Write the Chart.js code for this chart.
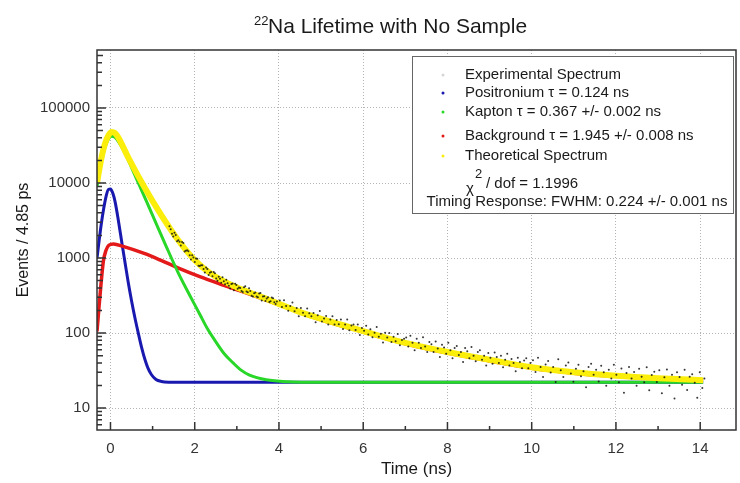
<!DOCTYPE html>
<html>
<head>
  <title>22Na Lifetime with No Sample</title>
  <script src="https://cdn.jsdelivr.net/npm/chart.js"></script>
  <style>
    body { margin: 0; background: #fff; }
  </style>
</head>
<body>
  <canvas id="myChart" width="740" height="483"></canvas>
  <script>
    // tick values
    const timeTicks = [0, 2, 4, 6, 8, 10, 12, 14];
    const timeMinorTicks = [1, 3, 5, 7, 9, 11, 13];
    const countTicks = [10, 100, 1000, 10000, 100000];

    // [time (ns), events]
    const positronium = [[-0.32, 1000], [-0.27, 1700], [-0.22, 2800], [-0.16, 4600], [-0.1, 6800], [-0.05, 8200],
      [0.0, 8300], [0.06, 7200], [0.11, 5600], [0.19, 3100], [0.27, 1600], [0.35, 840], [0.42, 480], [0.5, 270],
      [0.58, 160], [0.66, 100], [0.74, 64], [0.82, 44], [0.89, 34], [0.97, 28], [1.08, 24], [1.21, 22.6],
      [1.4, 22.1], [1.7, 22], [14.07, 22]];

    const kapton = [[-0.32, 9000], [-0.25, 15000], [-0.2, 21000], [-0.13, 30000], [-0.05, 38500], [0.03, 42000],
      [0.1, 41000], [0.3, 28000], [0.6, 12000], [1.0, 3700], [1.33, 1400], [1.6, 650], [1.92, 290], [2.12, 178],
      [2.31, 112], [2.51, 75], [2.7, 53], [2.91, 40], [3.1, 32], [3.3, 27.5], [3.7, 23.8], [4.2, 22.4],
      [5.0, 22], [14.07, 22]];

    const background = [[-0.32, 105], [-0.27, 230], [-0.22, 480], [-0.17, 900], [-0.11, 1250], [-0.04, 1480],
      [0.07, 1540], [0.3, 1430], [0.8, 1150], [1.2, 930], [1.6, 740], [2.12, 565], [2.71, 430], [3.2, 345],
      [4.0, 238], [5.0, 150], [6.0, 103], [7.0, 72], [8.0, 54], [9.0, 42.5], [10.0, 33.8], [11.0, 29.2],
      [12.0, 26.5], [13.0, 24.6], [14.07, 23.3]];

    const theoretical = [[-0.32, 10000], [-0.25, 17000], [-0.2, 23500], [-0.13, 33500], [-0.05, 43000], [0.03, 48000],
      [0.1, 46500], [0.19, 40000], [0.42, 22000], [0.82, 8500], [1.21, 3700], [1.6, 1750], [2.0, 940], [2.4, 610],
      [2.9, 430], [3.5, 315], [4.0, 245], [4.5, 190], [5.0, 155], [5.5, 128], [6.0, 106], [6.5, 88], [7.0, 74],
      [7.5, 64], [8.0, 56], [9.0, 44], [10.0, 35], [11.0, 30], [12.0, 27], [13.0, 25], [14.07, 23.5]];

    // experimental spectrum, the scattered black dots
    const expEarly = [[1.40, 2650], [1.43, 2420], [1.46, 2110], [1.49, 1930], [1.52, 2180], [1.55, 2030], [1.58, 1670],
      [1.61, 1730], [1.64, 1650], [1.67, 1470], [1.70, 1640], [1.73, 1580], [1.76, 1220], [1.79, 1255], [1.82, 1270],
      [1.85, 1235], [1.88, 1090], [1.91, 955], [1.94, 1090], [1.97, 1015], [2.00, 885], [2.03, 985], [2.06, 980],
      [2.09, 790], [2.12, 785], [2.15, 800], [2.18, 800], [2.21, 713], [2.24, 640], [2.27, 745], [2.30, 715],
      [2.33, 593], [2.36, 635], [2.39, 649], [2.42, 570], [2.45, 650], [2.48, 627], [2.51, 533], [2.54, 497],
      [2.57, 565], [2.60, 530], [2.63, 470], [2.66, 554], [2.69, 490], [2.72, 447], [2.75, 513], [2.78, 462],
      [2.81, 426], [2.84, 392], [2.87, 452], [2.90, 456], [2.93, 373], [2.96, 455], [2.99, 436], [3.02, 389],
      [3.05, 406], [3.08, 400], [3.11, 363], [3.14, 353], [3.17, 408], [3.20, 420], [3.23, 358], [3.26, 350],
      [3.29, 397], [3.32, 363], [3.35, 314], [3.38, 306], [3.41, 340], [3.44, 348], [3.47, 307], [3.50, 299],
      [3.53, 336], [3.56, 341], [3.59, 272], [3.62, 307], [3.65, 309], [3.68, 267], [3.71, 289], [3.74, 299],
      [3.77, 259], [3.80, 266], [3.83, 297], [3.86, 290], [3.89, 257], [3.92, 243], [3.95, 264]];

    const expMid = [[4.02, 272], [4.07, 223], [4.12, 273], [4.17, 230], [4.22, 198], [4.27, 229], [4.32, 255],
      [4.37, 195], [4.42, 216], [4.47, 168], [4.52, 216], [4.57, 186], [4.62, 167], [4.67, 212], [4.72, 183],
      [4.77, 167], [4.82, 185], [4.87, 139], [4.92, 173], [4.97, 196], [5.02, 143], [5.07, 156], [5.12, 169],
      [5.17, 130], [5.22, 152], [5.27, 167], [5.32, 130], [5.37, 149], [5.42, 131], [5.47, 151], [5.52, 113],
      [5.57, 130], [5.62, 151], [5.67, 109], [5.72, 126], [5.77, 130], [5.82, 110], [5.87, 130], [5.92, 94],
      [5.97, 117], [6.02, 107], [6.07, 125], [6.12, 96], [6.17, 112], [6.22, 88], [6.27, 101], [6.32, 120],
      [6.37, 89], [6.42, 98], [6.47, 75], [6.52, 101], [6.57, 87], [6.62, 100], [6.67, 76], [6.72, 89],
      [6.77, 78], [6.82, 97], [6.87, 69], [6.92, 81], [6.97, 84]];

    const expLate = [[7.02, 87], [7.07, 66], [7.12, 92], [7.17, 74], [7.22, 59], [7.27, 84], [7.32, 74], [7.37, 63],
      [7.42, 88], [7.47, 66], [7.52, 56], [7.57, 76], [7.62, 71], [7.67, 56], [7.72, 77], [7.77, 62], [7.82, 48],
      [7.87, 70], [7.92, 64], [7.97, 53], [8.02, 74], [8.07, 59], [8.12, 46], [8.17, 63], [8.22, 67], [8.27, 51],
      [8.32, 56], [8.37, 41], [8.42, 63], [8.47, 57], [8.52, 46], [8.57, 65], [8.62, 50], [8.67, 42], [8.72, 56],
      [8.77, 59], [8.82, 44], [8.87, 50], [8.92, 37], [8.97, 54], [9.02, 47], [9.07, 39], [9.12, 55], [9.17, 48],
      [9.22, 40], [9.27, 50], [9.32, 35], [9.37, 44], [9.42, 53], [9.47, 37], [9.52, 45], [9.57, 40], [9.62, 31],
      [9.67, 47], [9.72, 41], [9.77, 34], [9.82, 43], [9.87, 46], [9.92, 34], [9.97, 40]];

    const expTail = [[10.03, 43.5], [10.09, 30.3], [10.15, 46.9], [10.21, 35.3], [10.27, 26], [10.33, 38], [10.39, 42.5],
      [10.45, 29.8], [10.51, 35.4], [10.57, 22.3], [10.63, 44.9], [10.69, 31.9], [10.75, 26], [10.81, 37],
      [10.87, 40.6], [10.93, 28.8], [10.99, 22.5], [11.05, 33.4], [11.11, 37.9], [11.17, 26.5], [11.23, 31],
      [11.29, 18.9], [11.35, 35.3], [11.41, 39], [11.47, 27.7], [11.53, 32.4], [11.59, 22.6], [11.65, 36.7],
      [11.71, 30.1], [11.77, 19.9], [11.83, 32.5], [11.89, 24.8], [11.95, 37.9], [12.01, 27.8], [12.07, 22.1],
      [12.13, 33.6], [12.19, 16], [12.25, 29.4], [12.31, 35.4], [12.37, 24.7], [12.43, 30.3], [12.49, 19.8],
      [12.55, 33.4], [12.61, 26.1], [12.67, 22.1], [12.73, 35.1], [12.79, 17.3], [12.85, 27.6], [12.91, 30.5],
      [12.97, 22.3], [13.03, 31.8], [13.09, 15.7], [13.15, 25.8], [13.21, 32.6], [13.27, 19.9], [13.33, 27.7],
      [13.39, 13.4], [13.45, 30.1], [13.51, 25.9], [13.57, 20.5], [13.63, 32.4], [13.69, 17.4], [13.75, 26.2],
      [13.81, 28.2], [13.87, 21.7], [13.93, 13.7], [13.99, 30.1], [14.05, 18.5], [14.1, 24.8]];

    const legendLabels = ['Experimental Spectrum', 'Positronium \u03c4 = 0.124 ns', 'Kapton \u03c4 = 0.367 +/- 0.002 ns',
      'Background \u03c4 = 1.945 +/- 0.008 ns', 'Theoretical Spectrum'];
    const chiLabel = '/ dof = 1.1996';
    const timingLabel = 'Timing Response: FWHM: 0.224 +/- 0.001 ns';

    const FONT = '"Liberation Sans", Arial, sans-serif';
    const colors = {
      exp: 'rgba(20,20,20,0.85)',
      blue: 'rgb(25,25,175)',
      green: 'rgb(40,215,40)',
      red: 'rgb(228,25,25)',
      yellow: 'rgb(250,238,10)'
    };
    const legendColors = ['#d6d6d6', colors.blue, colors.green, colors.red, colors.yellow];

    function toXY(arr) {
      return arr.map(p => ({x: p[0], y: p[1]}));
    }

    function curve(label, arr, color, width, order) {
      return {
        label: label,
        data: toXY(arr),
        showLine: true,
        borderColor: color,
        backgroundColor: color,
        borderWidth: width,
        pointRadius: 0,
        cubicInterpolationMode: 'monotone',
        order: order
      };
    }

    // title with superscript, frame, inside ticks and the legend box
    const decorations = {
      id: 'decorations',
      afterDraw(chart) {
        const ctx = chart.ctx;
        const area = chart.chartArea;
        const xs = chart.scales.x;
        const ys = chart.scales.y;
        ctx.save();

        // title
        ctx.fillStyle = '#1a1a1a';
        ctx.textBaseline = 'alphabetic';
        ctx.textAlign = 'left';
        ctx.font = '13px ' + FONT;
        ctx.fillText('22', 254, 25);
        ctx.font = '21px ' + FONT;
        ctx.fillText('Na Lifetime with No Sample', 268, 33);

        // frame
        ctx.strokeStyle = '#333';
        ctx.lineWidth = 1.5;
        ctx.strokeRect(area.left, area.top, area.right - area.left, area.bottom - area.top);

        // ticks pointing inward
        ctx.beginPath();
        timeTicks.forEach(v => {
          const px = xs.getPixelForValue(v);
          ctx.moveTo(px, area.bottom); ctx.lineTo(px, area.bottom - 8);
        });
        timeMinorTicks.forEach(v => {
          const px = xs.getPixelForValue(v);
          ctx.moveTo(px, area.bottom); ctx.lineTo(px, area.bottom - 4);
        });
        for (let dec = 1; dec <= 1000000; dec *= 10) {
          for (let m = 1; m <= 9; m++) {
            const v = dec * m;
            if (v < ys.min || v > ys.max) continue;
            const py = ys.getPixelForValue(v);
            const len = m === 1 ? 9 : (m === 5 ? 6 : 5);
            ctx.moveTo(area.left, py); ctx.lineTo(area.left + len, py);
          }
        }
        ctx.stroke();

        // legend box
        const bx = 412.5, by = 56.5, bw = 321, bh = 157;
        ctx.fillStyle = '#fff';
        ctx.fillRect(bx, by, bw, bh);
        ctx.strokeStyle = '#666';
        ctx.lineWidth = 1;
        ctx.strokeRect(bx, by, bw, bh);

        const rows = [75, 93, 112, 136, 156];
        ctx.font = '15px ' + FONT;
        ctx.textBaseline = 'middle';
        legendLabels.forEach((txt, i) => {
          ctx.fillStyle = legendColors[i];
          ctx.beginPath();
          ctx.arc(443, rows[i], 1.5, 0, Math.PI * 2);
          ctx.fill();
          ctx.fillStyle = '#1a1a1a';
          ctx.fillText(txt, 465, rows[i]);
        });

        // chi-square line
        ctx.fillText('\u03c7', 466, 189);
        ctx.font = '13px ' + FONT;
        ctx.fillText('2', 475, 174);
        ctx.font = '15px ' + FONT;
        ctx.fillText(chiLabel, 486, 184);

        ctx.textAlign = 'center';
        ctx.fillText(timingLabel, 577, 202);
        ctx.restore();
      }
    };

    const ctx = document.getElementById('myChart').getContext('2d');
    const myChart = new Chart(ctx, {
      type: 'scatter',
      data: {
        datasets: [
          {
            label: legendLabels[0],
            data: toXY(expEarly.concat(expMid, expLate, expTail)),
            pointRadius: 1,
            pointBorderWidth: 0,
            pointBackgroundColor: colors.exp,
            showLine: false,
            order: 0
          },
          curve(legendLabels[1], positronium, colors.blue, 3, 4),
          curve(legendLabels[2], kapton, colors.green, 3, 2),
          curve(legendLabels[3], background, colors.red, 3.5, 3),
          curve(legendLabels[4], theoretical, colors.yellow, 6, 1)
        ]
      },
      options: {
        responsive: false,
        animation: false,
        layout: {
          padding: {top: 50, right: 2, left: 0, bottom: 0}
        },
        plugins: {
          legend: {display: false},
          tooltip: {enabled: false},
          title: {display: false}
        },
        scales: {
          x: {
            type: 'linear',
            min: -0.32,
            max: 14.85,
            afterBuildTicks: scale => { scale.ticks = timeTicks.map(v => ({value: v})); },
            afterFit: scale => { scale.height = 53; },
            grid: {color: '#b4b4b4', lineWidth: 1, drawTicks: false},
            border: {display: false, dash: [1, 2]},
            ticks: {
              padding: 10,
              autoSkip: false,
              maxRotation: 0,
              color: '#333',
              font: {family: FONT, size: 15},
              callback: v => String(v)
            },
            title: {
              display: true,
              text: 'Time (ns)',
              color: '#1a1a1a',
              font: {family: FONT, size: 17},
              padding: {top: 0, bottom: 3}
            }
          },
          y: {
            type: 'logarithmic',
            min: 5.1,
            max: 593000,
            afterBuildTicks: scale => { scale.ticks = countTicks.map(v => ({value: v})); },
            afterFit: scale => { scale.width = 97; },
            grid: {color: '#b4b4b4', lineWidth: 1, drawTicks: false},
            border: {display: false, dash: [1, 2]},
            ticks: {
              padding: 7,
              autoSkip: false,
              color: '#333',
              font: {family: FONT, size: 15},
              callback: v => String(v)
            },
            title: {
              display: true,
              text: 'Events / 4.85 ps',
              color: '#1a1a1a',
              font: {family: FONT, size: 16},
              padding: {top: 14, bottom: 0}
            }
          }
        }
      },
      plugins: [decorations]
    });
  </script>
</body>
</html>
